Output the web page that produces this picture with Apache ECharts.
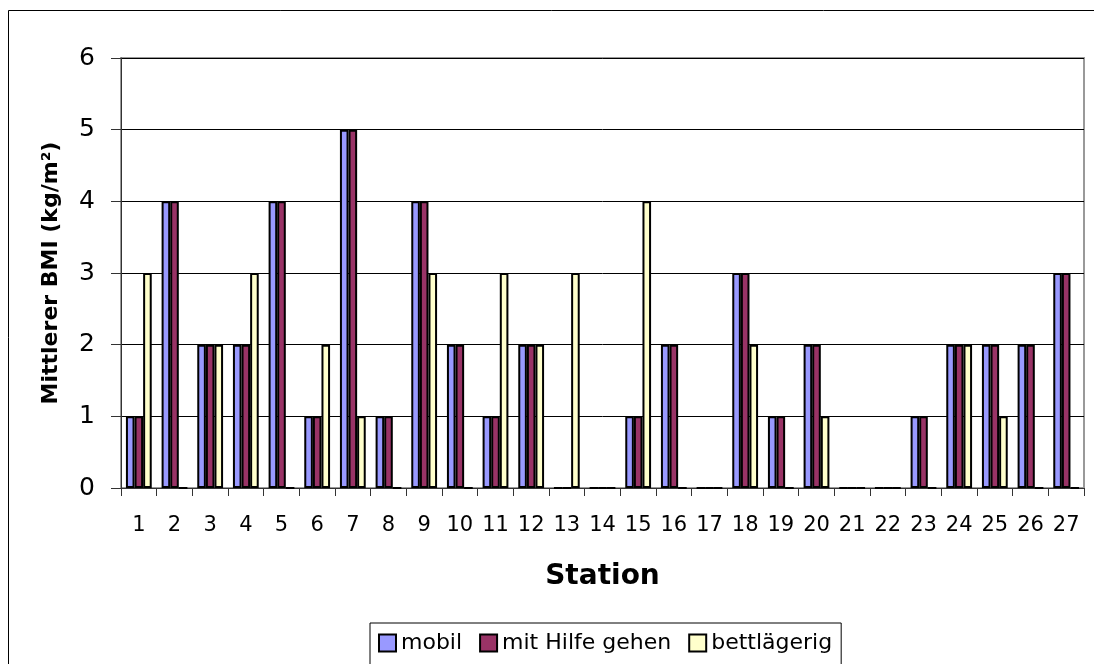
<!DOCTYPE html>
<html>
<head>
<meta charset="utf-8">
<script src="https://cdn.jsdelivr.net/npm/echarts@6/dist/echarts.min.js"></script>
<style>
  html, body { margin: 0; padding: 0; background: #fff; }
  #chart { width: 1094px; height: 664px; }
</style>
</head>
<body>
<div id="chart"></div>
<script>
// Stations on the x axis
const stations = ['1','2','3','4','5','6','7','8','9','10','11','12','13','14','15','16','17','18','19','20','21','22','23','24','25','26','27'];
// Mean BMI per station and mobility group
const mobil        = [1,4,2,2,4,1,5,1,4,2,1,2,0,0,1,2,0,3,1,2,0,0,1,2,2,2,3];
const mitHilfe     = [1,4,2,2,4,1,5,1,4,2,1,2,0,0,1,2,0,3,1,2,0,0,1,2,2,2,3];
const bettlaegerig = [3,0,2,3,0,2,1,0,3,0,3,2,3,0,4,0,0,2,0,1,0,0,0,2,1,0,0];
const seriesNames = ['mobil', 'mit Hilfe gehen', 'bettlägerig'];
const yTicks = [0, 1, 2, 3, 4, 5, 6];

const FONT = '"DejaVu Sans", Verdana, sans-serif';
const colors = ['#9999FF', '#993366', '#FFFFCC'];
const values = [mobil, mitHilfe, bettlaegerig];

const chart = echarts.init(document.getElementById('chart'), null, { renderer: 'canvas' });

chart.setOption({
  animation: false,
  backgroundColor: '#ffffff',
  textStyle: { fontFamily: FONT, color: '#000' },
  graphic: [{
    type: 'rect',
    shape: { x: 8.5, y: 10.5, width: 1100, height: 700 },
    style: { fill: 'none', stroke: '#000', lineWidth: 1 },
    silent: true,
    z: -10
  }],
  grid: {
    left: 121, right: 10, top: 58, bottom: 176,
    show: true,
    borderColor: '#999999',
    borderWidth: 2,
    backgroundColor: '#ffffff'
  },
  legend: {
    left: 370,
    top: 623,
    data: seriesNames,
    icon: 'rect',
    itemWidth: 17,
    itemHeight: 17,
    itemGap: 17,
    padding: [9, 9, 11, 8],
    borderColor: '#000',
    borderWidth: 1,
    itemStyle: { borderColor: '#000', borderWidth: 2 },
    textStyle: { fontFamily: FONT, fontSize: 22, color: '#000' }
  },
  xAxis: {
    type: 'category',
    data: stations,
    name: 'Station',
    nameLocation: 'middle',
    nameGap: 75,
    nameTextStyle: { fontFamily: FONT, fontSize: 28, fontWeight: 'bold', color: '#000' },
    axisLine: { lineStyle: { color: '#333', width: 1 } },
    axisTick: { show: true, alignWithLabel: false, length: 8, lineStyle: { color: '#333' } },
    axisLabel: { fontFamily: FONT, fontSize: 21, color: '#000', margin: 27, interval: 0 }
  },
  yAxis: {
    type: 'value',
    min: yTicks[0],
    max: yTicks[yTicks.length - 1],
    interval: 1,
    name: 'Mittlerer BMI (kg/m²)',
    nameLocation: 'middle',
    nameGap: 59,
    nameTextStyle: { fontFamily: FONT, fontSize: 22, fontWeight: 'bold', color: '#000' },
    axisLine: { show: true, lineStyle: { color: '#333', width: 1 } },
    axisTick: { show: true, length: 10, lineStyle: { color: '#333' } },
    axisLabel: { fontFamily: FONT, fontSize: 25, color: '#000', margin: 26 },
    splitLine: { show: true, lineStyle: { color: '#000', width: 1 } }
  },
  series: seriesNames.map((name, i) => ({
    name: name,
    type: 'bar',
    data: values[i],
    barWidth: 8.6,
    barGap: '0%',
    itemStyle: { color: colors[i], borderColor: '#000', borderWidth: 2 }
  }))
});
</script>
</body>
</html>
